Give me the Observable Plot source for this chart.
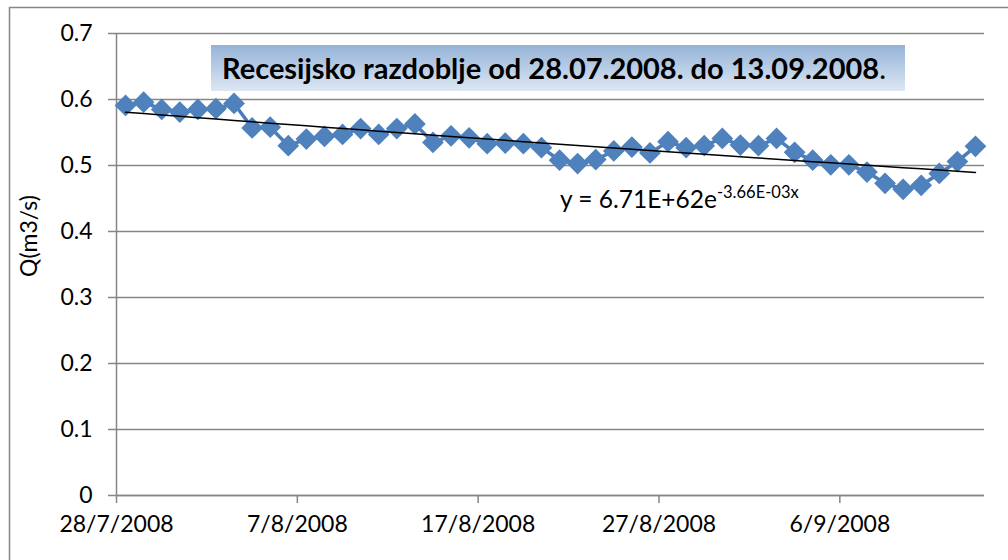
<!DOCTYPE html>
<html><head><meta charset="utf-8">
<script src="https://cdn.jsdelivr.net/npm/d3@7"></script>
<script src="https://cdn.jsdelivr.net/npm/@observablehq/plot@0.6"></script>
<style>
body{margin:0;background:#fff}
#chart{position:relative;width:1008px;height:560px}
</style>
</head><body><div id="chart"></div>
<script>
// ---- data ----
const startDate = "2008-07-28";
const sampleHour = 12;
const flow = [
  0.591, 0.596, 0.585, 0.581, 0.585, 0.586, 0.594, 0.557, 0.558, 0.530,
  0.540, 0.544, 0.547, 0.556, 0.547, 0.556, 0.563, 0.535, 0.545, 0.542,
  0.533, 0.534, 0.533, 0.527, 0.508, 0.503, 0.509, 0.522, 0.528, 0.519,
  0.536, 0.527, 0.530, 0.541, 0.531, 0.530, 0.541, 0.520, 0.508, 0.501,
  0.501, 0.490, 0.473, 0.464, 0.470, 0.488, 0.506, 0.529
];
const yTicks = [0, 0.1, 0.2, 0.3, 0.4, 0.5, 0.6, 0.7];
const yTickLabels = ["0", "0.1", "0.2", "0.3", "0.4", "0.5", "0.6", "0.7"];
const xTickLabels = ["28/7/2008", "7/8/2008", "17/8/2008", "27/8/2008", "6/9/2008"];
const axisEndDays = 48;
const titleBold = "Recesijsko razdoblje od 28.07.2008. do 13.09.2008";
const titleTail = ".";
const eqMain = "y = 6.71E+62e";
const eqExp = "-3.66E-03x";
const yLabel = "Q(m3/s)";

// ---- build ----
const FONT = "Lato, 'Open Sans', sans-serif";
const GRAY = "#868686";
const parseTick = d3.utcParse("%d/%m/%Y");
const t0 = d3.utcParse("%Y-%m-%d")(startDate);
const rows = flow.map((v, i) => ({date: d3.utcHour.offset(d3.utcDay.offset(t0, i), sampleHour), q: v}));
const xTicks = xTickLabels.map(parseTick);
const xEnd = d3.utcDay.offset(t0, axisEndDays);

// exponential trend (least squares on ln q), as Excel does
const tDays = rows.map(r => (r.date - t0) / 864e5);
const lnq = rows.map(r => Math.log(r.q));
const mt = d3.mean(tDays), ml = d3.mean(lnq);
const b = d3.sum(tDays, (t, i) => (t - mt) * (lnq[i] - ml)) / d3.sum(tDays, t => (t - mt) ** 2);
const a = ml - b * mt;
const trend = rows.map((r, i) => ({date: r.date, q: Math.exp(a + b * tDays[i])}));

const plot = Plot.plot({
  width: 1008, height: 560,
  marginLeft: 116, marginRight: 24, marginTop: 33, marginBottom: 65,
  style: {fontFamily: FONT, fontSize: "23px", color: "#000", background: "#fff"},
  x: {type: "utc", domain: [t0, xEnd]},
  y: {domain: [0, 0.7]},
  marks: [
    Plot.gridY(yTicks, {stroke: GRAY, strokeOpacity: 1, strokeWidth: 1.5}),
    Plot.ruleX([t0], {stroke: GRAY, strokeWidth: 1.5}),
    Plot.axisY(yTicks, {tickSize: 8, tickPadding: 16, stroke: GRAY, strokeWidth: 1.5,
      tickFormat: (d, i) => yTickLabels[i], fill: "#000", label: null}),
    Plot.axisX(xTicks, {tickSize: 8, tickPadding: 12, stroke: GRAY, strokeWidth: 1.5,
      tickFormat: (d, i) => xTickLabels[i], fill: "#000", label: null}),
    Plot.ruleY([0], {stroke: GRAY, strokeWidth: 1.5}),
    Plot.line(rows, {x: "date", y: "q", stroke: "#4a7ebb", strokeWidth: 3.5}),
    Plot.dot(rows, {x: "date", y: "q", symbol: "diamond2", r: 9.8, fill: "#4f81bd", stroke: "none"}),
    Plot.line(trend, {x: "date", y: "q", stroke: "#000", strokeWidth: 1.5})
  ]
});

const svg = d3.select(plot);
// chart border (left and top edges visible in the frame)
svg.append("path").attr("d", "M9.5,560 V7.5 H1008")
  .attr("fill", "none").attr("stroke", GRAY).attr("stroke-width", 1.5);

// y-axis title
svg.append("text").attr("transform", "translate(31,236) rotate(-90)")
  .attr("text-anchor", "middle").attr("font-family", FONT).attr("font-size", 23)
  .attr("dominant-baseline", "middle").attr("fill", "#000").text(yLabel);

// title box with gradient
const defs = svg.append("defs");
const g = defs.append("linearGradient").attr("id", "tgrad").attr("x1", 0).attr("y1", 0).attr("x2", 0).attr("y2", 1);
g.append("stop").attr("offset", "0%").attr("stop-color", "#95b3d7");
g.append("stop").attr("offset", "100%").attr("stop-color", "#dde7f3");
svg.append("rect").attr("x", 211).attr("y", 45).attr("width", 694).attr("height", 46).attr("fill", "url(#tgrad)");
const tt = svg.append("text").attr("x", 222).attr("y", 79).attr("font-family", FONT)
  .attr("text-anchor", "start").attr("font-size", 29).attr("fill", "#000");
tt.append("tspan").attr("font-weight", "bold").text(titleBold);
tt.append("tspan").text(titleTail);

// equation
const eq = svg.append("text").attr("x", 560).attr("y", 208).attr("font-family", FONT)
  .attr("text-anchor", "start").attr("font-size", 24.5).attr("fill", "#000");
eq.append("tspan").text(eqMain);
eq.append("tspan").attr("font-size", 16.5).attr("dy", -10).text(eqExp);

document.getElementById("chart").appendChild(plot);
</script>
</body></html>
